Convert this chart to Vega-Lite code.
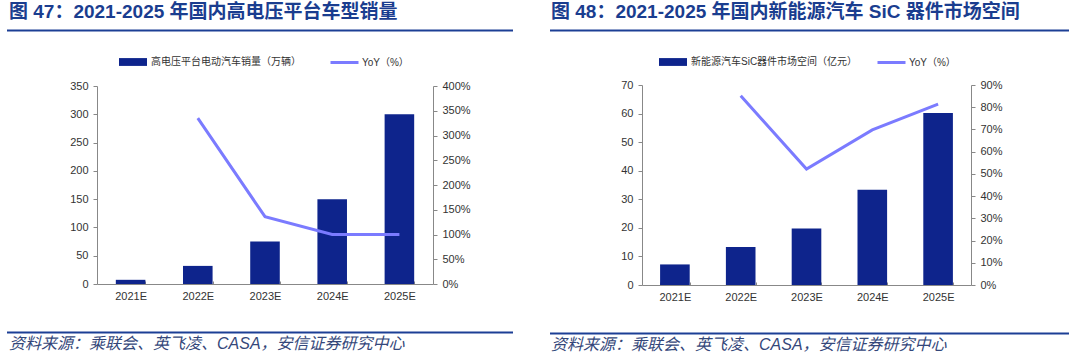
{
  "$schema": "https://vega.github.io/schema/vega-lite/v6.json",
  "padding": {"left": 6, "top": 2, "right": 0, "bottom": 0},
  "background": "white",
  "config": {
    "view": {"stroke": null},
    "axis": {"labelFont": "Liberation Sans", "labelFontSize": 11, "labelColor": "#333333", "domainColor": "#888888", "tickColor": "#888888", "grid": false, "title": null},
    "legend": {"labelFont": "Liberation Sans, Noto Sans CJK SC", "labelFontSize": 10, "labelColor": "#333333", "labelLimit": 400},
    "title": {"font": "Liberation Sans, Noto Sans CJK SC"}
  },
  "spacing": 35,
  "resolve": {"scale": {"fill": "independent", "stroke": "independent", "y": "independent", "x": "independent"}, "legend": {"fill": "independent", "stroke": "independent"}},
  "hconcat": [
    {
      "spacing": 15,
      "resolve": {"scale": {"fill": "independent", "stroke": "independent", "y": "independent", "x": "independent"}, "legend": {"fill": "independent", "stroke": "independent"}},
      "vconcat": [
        {
          "width": 336, "height": 1,
          "data": {"values": [{"a": 0, "b": 1}]},
          "title": {"text": "图 47：2021-2025 年国内高电压平台车型销量", "anchor": "start", "frame": "group", "dx": -88, "offset": 8, "fontSize": 19, "fontWeight": "bold", "color": "#1a3d8f"},
          "mark": {"type": "rule", "color": "#1c3f95", "strokeWidth": 2},
          "encoding": {
            "x": {"field": "a", "type": "quantitative", "scale": {"domain": [0, 1], "range": [-90, 416]}, "axis": null},
            "x2": {"field": "b"}
          }
        },
        {
          "spacing": 30,
          "resolve": {"scale": {"fill": "independent", "stroke": "independent", "y": "independent", "x": "independent"}, "legend": {"fill": "independent", "stroke": "independent"}},
          "vconcat": [
            {
              "width": 336, "height": 198,
              "data": {"values": [
                {"year": "2021E", "sales": 7.4, "yoy": null},
                {"year": "2022E", "sales": 32, "yoy": 335},
                {"year": "2023E", "sales": 75, "yoy": 136},
                {"year": "2024E", "sales": 150, "yoy": 100},
                {"year": "2025E", "sales": 300, "yoy": 100}
              ]},
              "layer": [
                {
                  "mark": {"type": "bar"},
                  "encoding": {
                    "x": {"field": "year", "type": "nominal", "sort": null, "scale": {"paddingInner": 0.56, "paddingOuter": 0.28}, "axis": {"labelAngle": 0, "tickBand": "extent", "tickSize": -3, "labelPadding": 9}},
                    "y": {"field": "sales", "type": "quantitative", "scale": {"domain": [0, 350]}, "axis": {"orient": "left", "values": [0, 50, 100, 150, 200, 250, 300, 350], "tickSize": 4, "labelPadding": 5}},
                    "fill": {"datum": "高电压平台电动汽车销量（万辆）", "type": "nominal", "scale": {"range": ["#0e248c"]}, "legend": {"orient": "none", "legendX": 21, "legendY": -39, "title": null, "symbolType": "M-1,-0.28H1V0.28H-1Z", "symbolSize": 784, "labelOffset": 3}}
                  }
                },
                {
                  "mark": {"type": "line", "strokeWidth": 3},
                  "encoding": {
                    "x": {"field": "year", "type": "nominal", "sort": null},
                    "y": {"field": "yoy", "type": "quantitative", "scale": {"domain": [0, 400]}, "axis": {"orient": "right", "values": [0, 50, 100, 150, 200, 250, 300, 350, 400], "labelExpr": "datum.value + '%'", "tickSize": 4, "labelPadding": 5}},
                    "stroke": {"datum": "YoY（%）", "type": "nominal", "scale": {"range": ["#7b7bff"]}, "legend": {"orient": "none", "legendX": 232, "legendY": -39, "title": null, "symbolType": "stroke", "symbolSize": 784, "symbolStrokeWidth": 3, "labelOffset": 2}}
                  }
                }
              ],
              "resolve": {"scale": {"y": "independent"}}
            },
            {
              "width": 336, "height": 1,
              "data": {"values": [{"a": 0, "b": 1}]},
              "title": {"text": "资料来源：乘联会、英飞凌、CASA，安信证券研究中心", "orient": "bottom", "anchor": "start", "frame": "group", "dx": -88, "offset": 2, "fontSize": 16, "fontWeight": "normal", "fontStyle": "italic", "color": "#34477a"},
              "mark": {"type": "rule", "color": "#1c3f95", "strokeWidth": 2},
              "encoding": {
                "x": {"field": "a", "type": "quantitative", "scale": {"domain": [0, 1], "range": [-90, 416]}, "axis": null},
                "x2": {"field": "b"}
              }
            }
          ]
        }
      ]
    },
    {
      "spacing": 15,
      "resolve": {"scale": {"fill": "independent", "stroke": "independent", "y": "independent", "x": "independent"}, "legend": {"fill": "independent", "stroke": "independent"}},
      "vconcat": [
        {
          "width": 329, "height": 1,
          "data": {"values": [{"a": 0, "b": 1}]},
          "title": {"text": "图 48：2021-2025 年国内新能源汽车 SiC 器件市场空间", "anchor": "start", "frame": "group", "dx": -91, "offset": 8, "fontSize": 19, "fontWeight": "bold", "color": "#1a3d8f"},
          "mark": {"type": "rule", "color": "#1c3f95", "strokeWidth": 2},
          "encoding": {
            "x": {"field": "a", "type": "quantitative", "scale": {"domain": [0, 1], "range": [-92, 427]}, "axis": null},
            "x2": {"field": "b"}
          }
        },
        {
          "spacing": 30,
          "resolve": {"scale": {"fill": "independent", "stroke": "independent", "y": "independent", "x": "independent"}, "legend": {"fill": "independent", "stroke": "independent"}},
          "vconcat": [
            {
              "width": 329, "height": 200,
              "data": {"values": [
                {"year": "2021E", "market": 7.2, "yoy": null},
                {"year": "2022E", "market": 13.3, "yoy": 85.2},
                {"year": "2023E", "market": 19.8, "yoy": 52.2},
                {"year": "2024E", "market": 33.3, "yoy": 69.8},
                {"year": "2025E", "market": 60.2, "yoy": 81.4}
              ]},
              "layer": [
                {
                  "mark": {"type": "bar"},
                  "encoding": {
                    "x": {"field": "year", "type": "nominal", "sort": null, "scale": {"paddingInner": 0.55, "paddingOuter": 0.275}, "axis": {"labelAngle": 0, "tickBand": "extent", "tickSize": -3, "labelPadding": 9}},
                    "y": {"field": "market", "type": "quantitative", "scale": {"domain": [0, 70]}, "axis": {"orient": "left", "values": [0, 10, 20, 30, 40, 50, 60, 70], "tickSize": 4, "labelPadding": 5}},
                    "fill": {"datum": "新能源汽车SiC器件市场空间（亿元）", "type": "nominal", "scale": {"range": ["#0e248c"]}, "legend": {"orient": "none", "legendX": 16, "legendY": -38, "title": null, "symbolType": "M-1,-0.28H1V0.28H-1Z", "symbolSize": 784, "labelOffset": 3}}
                  }
                },
                {
                  "mark": {"type": "line", "strokeWidth": 3},
                  "encoding": {
                    "x": {"field": "year", "type": "nominal", "sort": null},
                    "y": {"field": "yoy", "type": "quantitative", "scale": {"domain": [0, 90]}, "axis": {"orient": "right", "values": [0, 10, 20, 30, 40, 50, 60, 70, 80, 90], "labelExpr": "datum.value + '%'", "tickSize": 4, "labelPadding": 5}},
                    "stroke": {"datum": "YoY（%）", "type": "nominal", "scale": {"range": ["#7b7bff"]}, "legend": {"orient": "none", "legendX": 234, "legendY": -38, "title": null, "symbolType": "stroke", "symbolSize": 784, "symbolStrokeWidth": 3, "labelOffset": 2}}
                  }
                }
              ],
              "resolve": {"scale": {"y": "independent"}}
            },
            {
              "width": 329, "height": 1,
              "data": {"values": [{"a": 0, "b": 1}]},
              "title": {"text": "资料来源：乘联会、英飞凌、CASA，安信证券研究中心", "orient": "bottom", "anchor": "start", "frame": "group", "dx": -91, "offset": 2, "fontSize": 16, "fontWeight": "normal", "fontStyle": "italic", "color": "#34477a"},
              "mark": {"type": "rule", "color": "#1c3f95", "strokeWidth": 2},
              "encoding": {
                "x": {"field": "a", "type": "quantitative", "scale": {"domain": [0, 1], "range": [-92, 427]}, "axis": null},
                "x2": {"field": "b"}
              }
            }
          ]
        }
      ]
    }
  ]
}
